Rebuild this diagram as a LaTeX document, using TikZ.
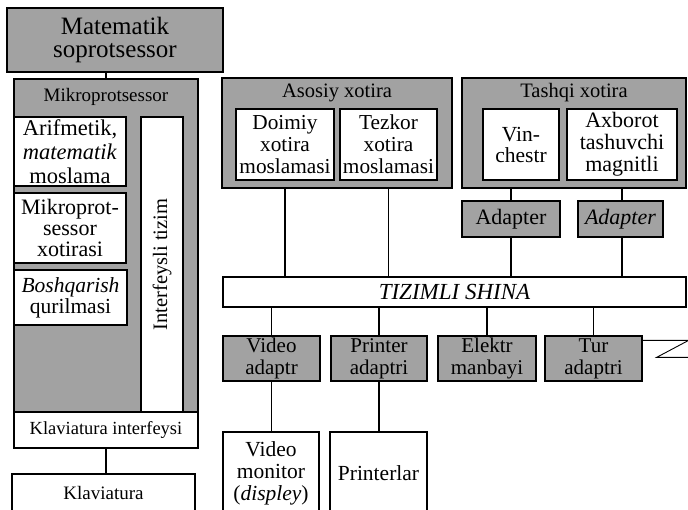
\documentclass[tikz,border=0pt]{standalone}
\usepackage{fontspec}
\setmainfont{Liberation Serif}
\usetikzlibrary{calc}
\definecolor{scangray}{RGB}{162, 162, 162}

\begin{document}
\begin{tikzpicture}[
        x=1pt, y=-1pt,
        block/.style={draw, fill=white, line width=1.3pt, inner sep=0pt, align=center, font=\fontsize{21}{22}\selectfont},
        shaded/.style={block, fill=scangray},
        title/.style={inner sep=0pt, font=\fontsize{20.5}{22}\selectfont},
        wire/.style={line width=1.1pt}
    ]
        \path[use as bounding box, clip] (0, 0) rectangle (688, 509);

        % Processor side
        \node[shaded, minimum width=216pt, minimum height=64pt, font=\fontsize{25}{23.5}\selectfont] (copro) at (115, 40) {Matematik\\soprotsessor};
        \node[shaded, minimum width=184pt, minimum height=333pt] (cpu) at (106, 245.5) {};
        \node[title, font=\fontsize{19}{22}\selectfont] (cputitle) at (106, 97) {Mikroprotsessor};
        \node[block, minimum width=112pt, minimum height=69pt, font=\fontsize{22.5}{24}\selectfont] (alu) at (70, 151.5) {Arifmetik,\\\textit{matematik}\\moslama};
        \node[block, minimum width=112pt, minimum height=70pt, font=\fontsize{22}{21}\selectfont] (cpumem) at (70, 228) {Mikroprot-\\sessor\\xotirasi};
        \node[block, minimum width=113pt, minimum height=55pt, font=\fontsize{21.5}{21}\selectfont] (ctrl) at (70.5, 297.5) {\textit{Boshqarish}\\qurilmasi};
        \node[block, minimum width=295pt, minimum height=42pt, rotate=90, font=\fontsize{20.5}{22}\selectfont] (iface) at (162, 264.5) {Interfeysli tizim};
        \node[block, minimum width=184pt, minimum height=36pt, font=\fontsize{18.5}{22}\selectfont] (kbdif) at (106, 430) {Klaviatura interfeysi};
        \node[block, minimum width=183pt, minimum height=38pt, font=\fontsize{19}{22}\selectfont] (kbd) at (103.5, 493) {Klaviatura};

        % Memory
        \node[shaded, minimum width=230pt, minimum height=110pt] (mainmem) at (337, 133) {};
        \node[title] (maintitle) at (337, 93) {Asosiy xotira};
        \node[block, minimum width=98pt, minimum height=71pt, font=\fontsize{21.3}{22}\selectfont] (rom) at (285, 144.5) {Doimiy\\xotira\\moslamasi};
        \node[block, minimum width=97pt, minimum height=71pt, font=\fontsize{21.3}{22}\selectfont] (ram) at (388.5, 144.5) {Tezkor\\xotira\\moslamasi};

        \node[shaded, minimum width=224pt, minimum height=110pt] (extmem) at (574, 133) {};
        \node[title] (exttitle) at (574, 93) {Tashqi xotira};
        \node[block, minimum width=76pt, minimum height=71pt, font=\fontsize{21.5}{21}\selectfont] (hdd) at (521, 144.5) {Vin-\\chestr};
        \node[block, minimum width=110pt, minimum height=71pt, font=\fontsize{22}{22}\selectfont] (fdd) at (622, 144.5) {Axborot\\tashuvchi\\magnitli};

        \node[shaded, minimum width=98pt, minimum height=36pt, font=\fontsize{22}{22}\selectfont] (hddadp) at (511, 219) {Adapter};
        \node[shaded, minimum width=85pt, minimum height=36pt, font=\fontsize{22}{22}\selectfont] (fddadp) at (620.5, 219) {\textit{Adapter}};

        % Bus
        \node[block, minimum width=463pt, minimum height=30pt, font=\fontsize{23}{22}\selectfont\itshape] (bus) at (454.5, 292) {TIZIMLI SHINA};

        % Adaptors
        \node[shaded, minimum width=97pt, minimum height=45pt] (vidadp) at (271.5, 358.5) {Video\\adaptr};
        \node[shaded, minimum width=96pt, minimum height=45pt] (prnadp) at (379, 358.5) {Printer\\adaptri};
        \node[shaded, minimum width=98pt, minimum height=45pt] (power) at (487, 358.5) {Elektr\\manbayi};
        \node[shaded, minimum width=97pt, minimum height=45pt] (netadp) at (593.5, 358.5) {Tur\\adaptri};

        % Devices
        \node[block, minimum width=96pt, minimum height=83pt, font=\fontsize{21.5}{22}\selectfont] (monitor) at (271, 473.5) {Video\\monitor\\(\textit{displey})};
        \node[block, minimum width=97pt, minimum height=83pt, font=\fontsize{21.5}{22}\selectfont] (printer) at (378.5, 473.5) {Printerlar};

        % Lines
        \draw[wire] (cpu.north) -- (cpu.north |- copro.south);
        \draw[wire] (kbdif.south) -- (kbdif.south |- kbd.north);

        \draw[wire] (rom.south |- mainmem.south) -- (rom.south |- bus.north);
        \draw[wire] (ram.south |- mainmem.south) -- (ram.south |- bus.north);
        \draw[wire] (hddadp.north) -- (hddadp.north |- extmem.south);
        \draw[wire] (hddadp.south) -- (hddadp.south |- bus.north);
        \draw[wire] (fddadp.north -| fdd.south) -- (fdd.south |- extmem.south);
        \draw[wire] (fddadp.south -| fdd.south) -- (fdd.south |- bus.north);

        \draw[wire] (vidadp.north) -- (vidadp.north |- bus.south);
        \draw[wire] (prnadp.north) -- (prnadp.north |- bus.south);
        \draw[wire] (power.north) -- (power.north |- bus.south);
        \draw[wire] (netadp.north) -- (netadp.north |- bus.south);

        \draw[wire] (vidadp.south) -- (vidadp.south |- monitor.north);
        \draw[wire] (prnadp.south) -- (prnadp.south |- printer.north);

        \draw[line width=0.9pt] ($(netadp.north east)+(0, 5)$) -- ++(46, 0) -- ++(-32, 17) -- ++(32, 0);
    \end{tikzpicture}
\end{document}
